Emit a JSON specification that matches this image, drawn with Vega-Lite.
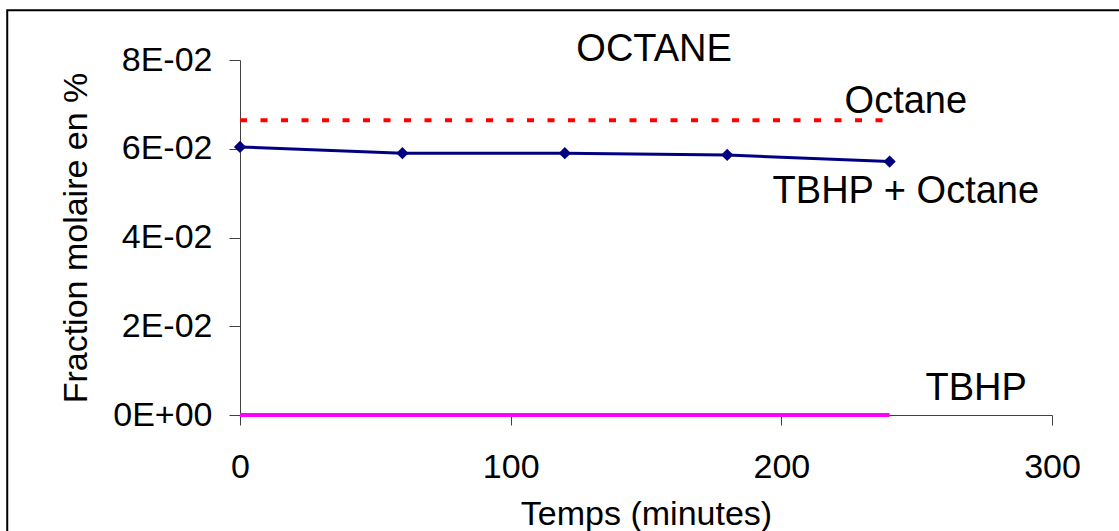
{
  "$schema": "https://vega.github.io/schema/vega-lite/v6.json",
  "width": 812,
  "height": 355,
  "autosize": {"type": "none"},
  "padding": {"left": 240, "top": 60, "right": 67, "bottom": 116},
  "background": "white",
  "config": {
    "view": {"stroke": null},
    "font": "Liberation Sans",
    "axis": {"grid": false, "labelFont": "Liberation Sans", "titleFont": "Liberation Sans", "labelColor": "black", "titleColor": "black", "domainColor": "#404040", "tickColor": "#404040", "titleFontWeight": "normal"}
  },
  "datasets": {
    "series": [
      {"series": "Octane", "t": 0, "v": 0.0664},
      {"series": "Octane", "t": 240, "v": 0.0664},
      {"series": "TBHP", "t": 0, "v": 0},
      {"series": "TBHP", "t": 240, "v": 0},
      {"series": "TBHP + Octane", "t": 0, "v": 0.0604},
      {"series": "TBHP + Octane", "t": 60, "v": 0.059},
      {"series": "TBHP + Octane", "t": 120, "v": 0.059},
      {"series": "TBHP + Octane", "t": 180, "v": 0.0586},
      {"series": "TBHP + Octane", "t": 240, "v": 0.0571}
    ],
    "labels": [
      {"label": "OCTANE", "t": 153, "v": 0.0822},
      {"label": "Octane", "t": 246, "v": 0.0706},
      {"label": "TBHP + Octane", "t": 246, "v": 0.0502},
      {"label": "TBHP", "t": 272, "v": 0.0059}
    ]
  },
  "layer": [
    {
      "data": {"values": [{"frame": "chart area"}]},
      "mark": {"type": "rect", "fill": "transparent", "fillOpacity": 0, "stroke": "black", "strokeWidth": 2, "clip": false},
      "encoding": {
        "x": {"datum": -86, "type": "quantitative", "scale": {"domain": [0, 300]}},
        "x2": {"datum": 420},
        "y": {"datum": 0.0912, "type": "quantitative", "scale": {"domain": [0, 0.08]}},
        "y2": {"datum": -0.06}
      }
    },
    {
      "data": {"name": "series"},
      "transform": [{"filter": "datum.series === 'Octane'"}],
      "mark": {"type": "line", "color": "#FF0000", "strokeWidth": 4, "strokeDash": [7, 13.5], "strokeCap": "butt"},
      "encoding": {
        "x": {"field": "t", "type": "quantitative", "scale": {"domain": [0, 300]},
          "axis": {"values": [0, 100, 200, 300], "title": "Temps (minutes)", "labelFontSize": 34, "titleFontSize": 34, "tickSize": 10, "labelPadding": 25, "titlePadding": 13, "labelFlush": false}},
        "y": {"field": "v", "type": "quantitative", "scale": {"domain": [0, 0.08]},
          "axis": {"values": [0, 0.02, 0.04, 0.06, 0.08], "title": "Fraction molaire en %", "labelFontSize": 34, "titleFontSize": 34, "tickSize": 11, "labelPadding": 17, "titlePadding": 19,
            "labelExpr": "datum.value == 0 ? '0E+00' : format(datum.value * 100, '.0f') + 'E-02'"}}
      }
    },
    {
      "data": {"name": "series"},
      "transform": [{"filter": "datum.series === 'TBHP'"}],
      "mark": {"type": "line", "color": "#FF00FF", "strokeWidth": 4},
      "encoding": {
        "x": {"field": "t", "type": "quantitative"},
        "y": {"field": "v", "type": "quantitative"}
      }
    },
    {
      "data": {"name": "series"},
      "transform": [{"filter": "datum.series === 'TBHP + Octane'"}],
      "mark": {"type": "line", "color": "#000080", "strokeWidth": 3, "point": {"shape": "diamond", "filled": true, "size": 150, "color": "#000080"}},
      "encoding": {
        "x": {"field": "t", "type": "quantitative"},
        "y": {"field": "v", "type": "quantitative"}
      }
    },
    {
      "data": {"name": "labels"},
      "mark": {"type": "text", "font": "Liberation Sans", "fontSize": 38, "color": "black", "align": "center", "baseline": "middle", "clip": false},
      "encoding": {
        "x": {"field": "t", "type": "quantitative"},
        "y": {"field": "v", "type": "quantitative"},
        "text": {"field": "label"}
      }
    }
  ]
}
